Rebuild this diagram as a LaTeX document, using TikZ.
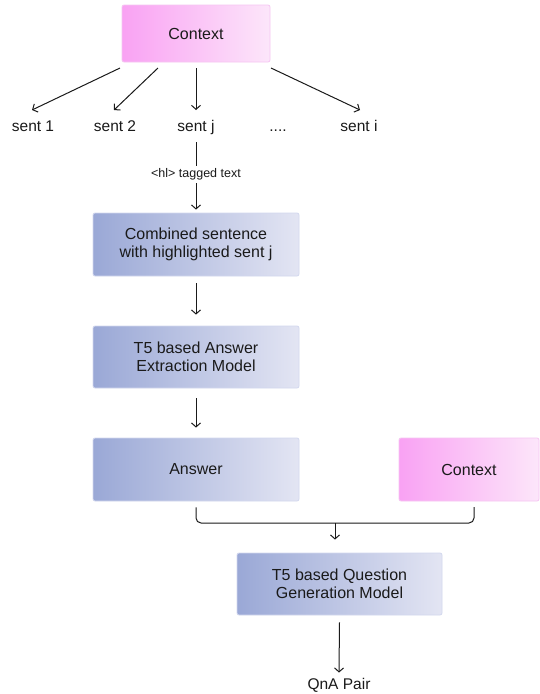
\documentclass[tikz,border=0pt]{standalone}
\usepackage{fontspec}
\setmainfont{Liberation Sans}
\usetikzlibrary{arrows.meta}
\definecolor{pinkL}{HTML}{F9A2F3}
\definecolor{pinkR}{HTML}{FCE6FA}
\definecolor{pinkB}{HTML}{F6C6F2}
\definecolor{blueL}{HTML}{9AA8D6}
\definecolor{blueR}{HTML}{E3E5F3}
\definecolor{blueB}{HTML}{D3D8EE}
\definecolor{ink}{HTML}{1A1A1A}
\tikzset{
  box/.style={rectangle, rounded corners=2pt, line width=0.8pt, align=center,
    font=\fontsize{16}{18.5}\selectfont, text=ink, inner sep=0pt},
  pinkbox/.style={box, draw=pinkB, left color=pinkL, right color=pinkR},
  bluebox/.style={box, draw=blueB, left color=blueL, right color=blueR},
  lbl/.style={font=\fontsize{15.5}{18}\selectfont, text=ink, inner sep=0pt, anchor=base},
  arr/.style={draw=ink, line width=1pt, -{Straight Barb[length=4pt,width=9pt]}},
  ln/.style={draw=ink, line width=1pt},
}
\begin{document}
\begin{tikzpicture}[x=1pt,y=-1pt]
\useasboundingbox[fill=white] (0,0) rectangle (540,694);
% top context
\node[pinkbox, minimum width=148pt, minimum height=57pt] (ctx) at (196,33.5) {Context};
% sentences
\node[lbl] (s1) at (33,131) {sent 1};
\node[lbl] (s2) at (115,131) {sent 2};
\node[lbl] (sj) at (196,131) {sent j};
\node[lbl] (sd) at (278,131) {....};
\node[lbl] (si) at (359,131) {sent i};
\coordinate (c1) at (120,68);
\coordinate (c2) at (158,68);
\coordinate (cj) at (196,68);
\coordinate (ci) at (271,68);
\coordinate (e1) at (32,110);
\coordinate (e2) at (114,110);
\coordinate (ej) at (196,110);
\coordinate (ei) at (360,110);
\draw[arr] (c1) -- (e1);
\draw[arr] (c2) -- (e2);
\draw[arr] (cj) -- (ej);
\draw[arr] (ci) -- (ei);
% tagged
\node[lbl, font=\fontsize{12.5}{15}\selectfont, anchor=center] (tag) at (196,174) {<hl> tagged text};
\coordinate (sjb) at (196,142);
\draw[ln] (sjb) -- ([yshift=2pt]tag.north);
\node[bluebox, minimum width=206pt, minimum height=63pt] (comb) at (196,244.5) {Combined sentence\\with highlighted sent j};
\draw[arr] ([yshift=-3pt]tag.south) -- ([yshift=3pt]comb.north);
\node[bluebox, minimum width=206pt, minimum height=62pt] (ext) at (196,357) {T5 based Answer\\Extraction Model};
\draw[arr] ([yshift=-7pt]comb.south) -- ([yshift=11pt]ext.north);
\node[bluebox, minimum width=206pt, minimum height=63pt] (ans) at (196,469.5) {Answer};
\draw[arr] ([yshift=-10pt]ext.south) -- ([yshift=10pt]ans.north);
\node[pinkbox, minimum width=140pt, minimum height=63pt] (ctx2) at (469,469.5) {Context};
\node[bluebox, minimum width=205pt, minimum height=62pt] (qg) at (339.5,584) {T5 based Question\\Generation Model};
% bracket
\coordinate (jn) at (335,523);
\draw[ln, rounded corners=5pt] ([yshift=-6pt]ans.south) -- (196,523) -- (474,523) -- (474,507);
\draw[arr] (jn) -- ([yshift=13pt]qg.north -| jn);
\node[lbl] (qna) at (339,689) {QnA Pair};
\draw[arr] ([yshift=-7pt]qg.south) -- ([yshift=5pt]qna.north);
\end{tikzpicture}
\end{document}
